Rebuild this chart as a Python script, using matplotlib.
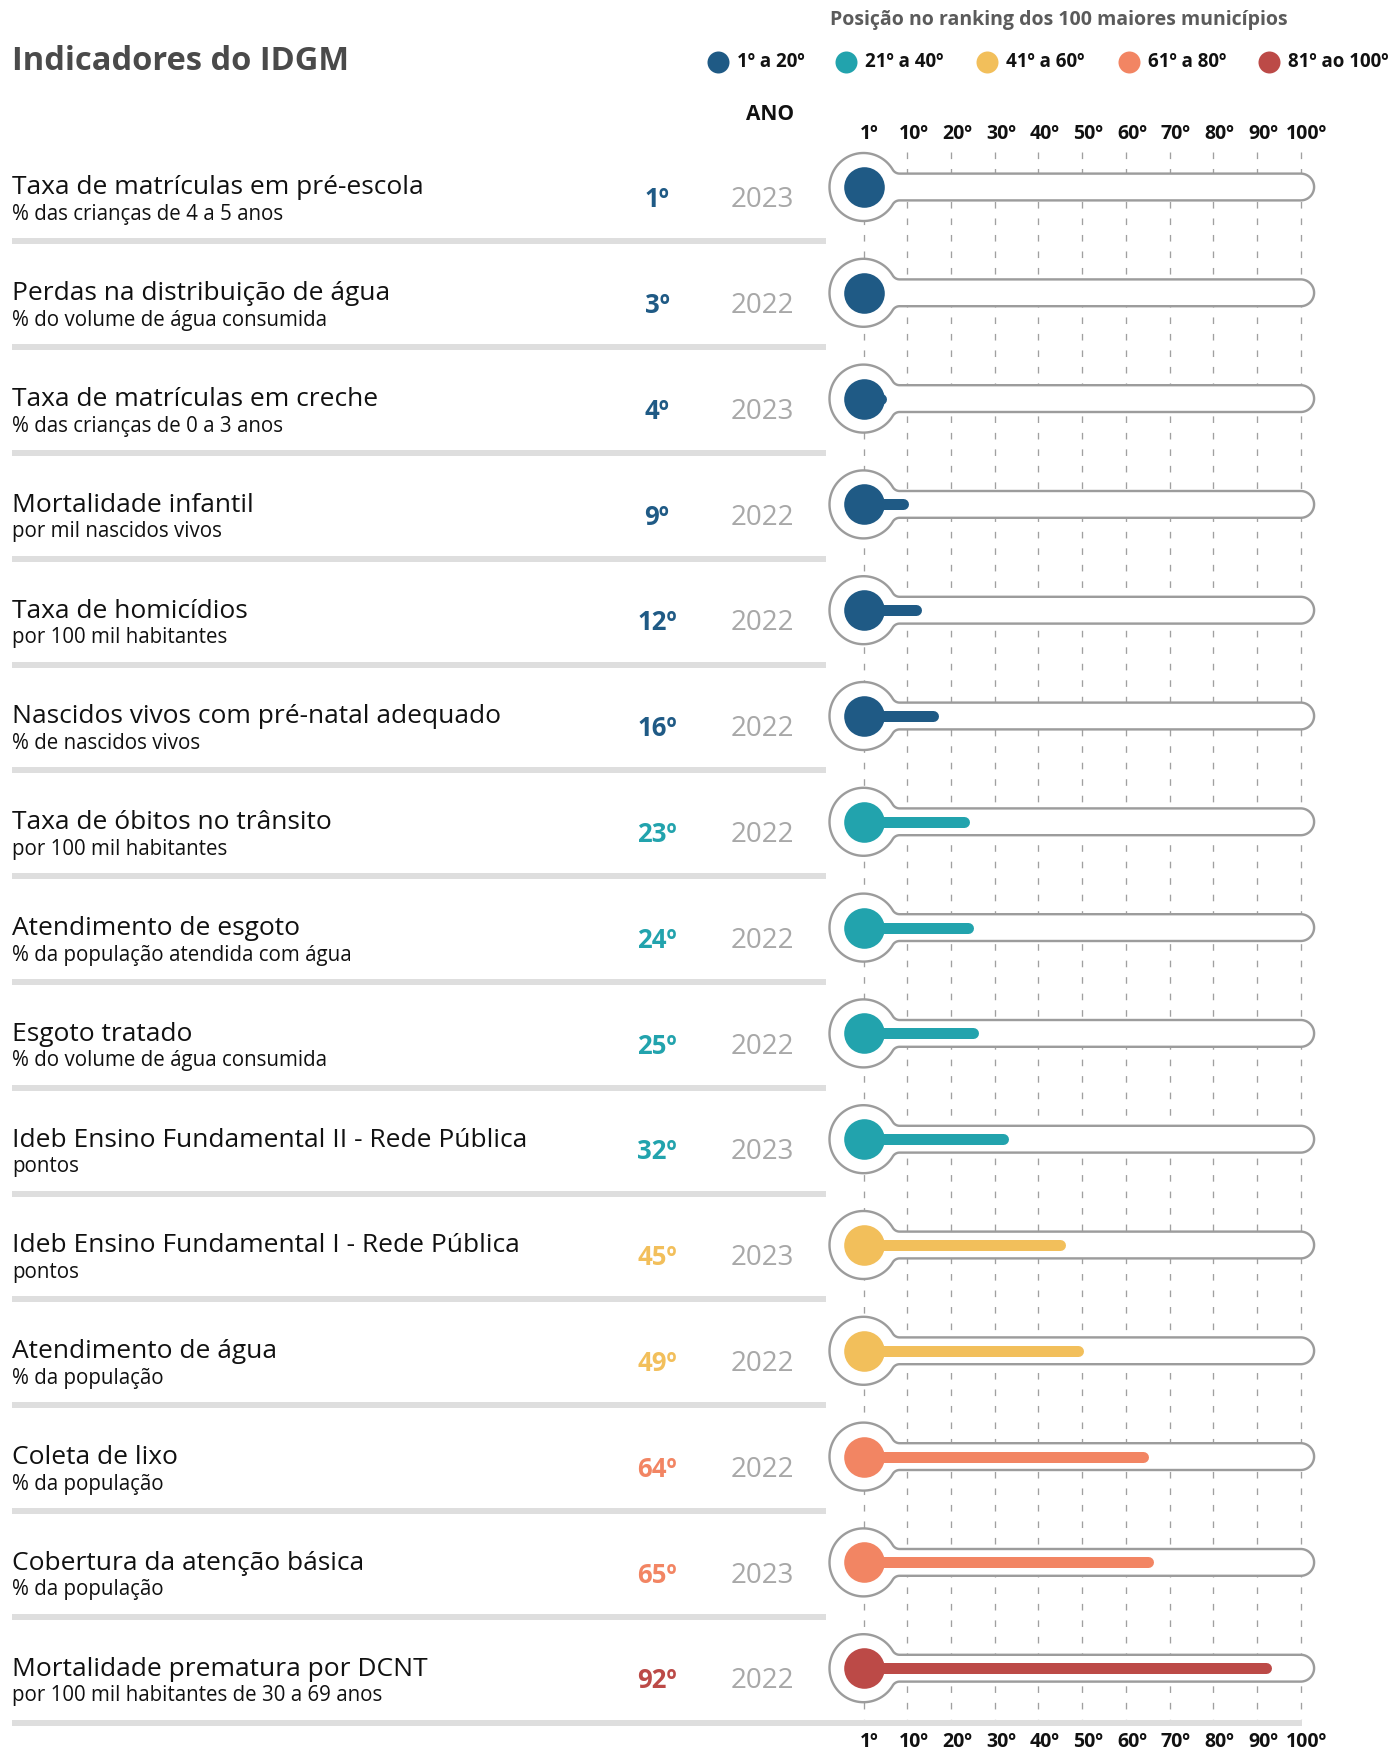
import numpy as np
import matplotlib.pyplot as plt
from matplotlib import transforms
from matplotlib.patches import Polygon

plt.rcParams['font.family'] = ['Open Sans', 'DejaVu Sans']

# dados do grafico
nomes = ["Taxa de matrículas em pré-escola", "Perdas na distribuição de água",
         "Taxa de matrículas em creche", "Mortalidade infantil", "Taxa de homicídios",
         "Nascidos vivos com pré-natal adequado", "Taxa de óbitos no trânsito",
         "Atendimento de esgoto", "Esgoto tratado",
         "Ideb Ensino Fundamental II - Rede Pública",
         "Ideb Ensino Fundamental I - Rede Pública", "Atendimento de água",
         "Coleta de lixo", "Cobertura da atenção básica", "Mortalidade prematura por DCNT"]
unidades = ["% das crianças de 4 a 5 anos", "% do volume de água consumida",
            "% das crianças de 0 a 3 anos", "por mil nascidos vivos", "por 100 mil habitantes",
            "% de nascidos vivos", "por 100 mil habitantes", "% da população atendida com água",
            "% do volume de água consumida", "pontos", "pontos", "% da população",
            "% da população", "% da população", "por 100 mil habitantes de 30 a 69 anos"]
ranks = [1, 3, 4, 9, 12, 16, 23, 24, 25, 32, 45, 49, 64, 65, 92]
anos = [2023, 2022, 2023, 2022, 2022, 2022, 2022, 2022, 2022, 2023, 2023, 2022, 2022, 2023, 2022]

ticks = [0, 10, 20, 30, 40, 50, 60, 70, 80, 90, 100]
tick_labels = ["1º", "10º", "20º", "30º", "40º", "50º", "60º", "70º", "80º", "90º", "100º"]
faixas = ["1º a 20º", "21º a 40º", "41º a 60º", "61º a 80º", "81º ao 100º"]
cores = ["#1f5a85", "#22a3ad", "#f2bf5b", "#f28563", "#bc4a47"]

CINZA = "#9c9c9c"
W, H = 1390, 1750
X0, SX = 863.5, 4.372   # pixel do 1º e pixels por posicao
Y0, SY = 187, 105.8     # pixel da primeira linha e pixels por linha
pt = 0.72  # pixels -> pontos (dpi 100)


def cor(r):
    return cores[min((r - 1) // 20, 4)]


def fx(px):
    return px / W


def fy(py):
    return 1 - py / H


def contorno(R=34.0, h=13.4, f=8.0, L=100 * SX):
    # bulbo + tubo com concordancia, em pixels relativos ao centro do bulbo
    xc = np.sqrt((R + f) ** 2 - (h + f) ** 2)
    th = np.arctan2(h + f, xc)
    a = np.linspace(th - np.pi, -np.pi / 2, 20)
    p1 = np.c_[xc + f * np.cos(a), h + f + f * np.sin(a)]
    a = np.linspace(np.pi / 2, -np.pi / 2, 40)
    p2 = np.c_[L + h * np.cos(a), h * np.sin(a)]
    a = np.linspace(np.pi / 2, np.pi - th, 20)
    p3 = np.c_[xc + f * np.cos(a), -(h + f) + f * np.sin(a)]
    a = np.linspace(-th, th - 2 * np.pi, 120)
    p4 = np.c_[R * np.cos(a), R * np.sin(a)]
    return np.vstack([p1, p2, p3, p4])


fig = plt.figure(figsize=(W / 100, H / 100), dpi=100)
ax = fig.add_axes([0, 0, 1, 1])
# eixo x em posicao do ranking, eixo y em linhas
ax.set_xlim(-X0 / SX, (W - X0) / SX)
ax.set_ylim((H - Y0) / SY, -Y0 / SY)
ax.axis('off')
tr = transforms.blended_transform_factory(fig.transFigure, ax.transData)

# cabecalho
fig.text(fx(12), fy(70), "Indicadores do IDGM", fontsize=23.5, fontweight='bold',
         color='#4a4a4a', va='baseline')
fig.text(fx(1059), fy(20), "Posição no ranking dos 100 maiores municípios", fontsize=14,
         fontweight='bold', color='#5b5b5b', ha='center', va='center')
leg_x = [718, 846, 987, 1129, 1269]
for k, lab in enumerate(faixas):
    ax.scatter([fx(leg_x[k])], [fy(61.7)], s=(22 * pt) ** 2, color=cores[k], lw=0,
               transform=fig.transFigure, clip_on=False)
    fig.text(fx(leg_x[k] + 19), fy(62), lab, fontsize=13.5, fontweight='bold',
             color='#111111', va='center')
fig.text(fx(770), fy(114), "ANO", fontsize=15, fontweight='bold', color='#111111',
         ha='center', va='center')

# eixo de ranking em cima e embaixo
for v, lab in zip(ticks, tick_labels):
    ax.text(v + 1.4, -0.5, lab, fontsize=14, fontweight='bold', ha='center', va='center',
            color='#111111')
    ax.text(v + 1.4, 14.695, lab, fontsize=14, fontweight='bold', ha='center',
            va='center', color='#111111')
ax.vlines(ticks, -0.33, 14.48, colors='#a0a0a0', linestyles=(0, (5, 7.5)), lw=0.95,
          zorder=1)

forma = contorno()
for i, (nome, un, r, ano) in enumerate(zip(nomes, unidades, ranks, anos)):
    c = cor(r)
    ax.text(fx(12), i + 0.069, nome, transform=tr, fontsize=19, va='baseline',
            color='#111111')
    ax.text(fx(12), i + 0.312, un, transform=tr, fontsize=14.8, va='baseline',
            color='#111111')
    ax.text(fx(657), i + 0.19, f"{r}º", transform=tr, fontsize=18.5, fontweight='bold',
            ha='center', va='baseline', color=c)
    ax.text(fx(762), i + 0.19, str(ano), transform=tr, fontsize=20, ha='center',
            va='baseline', color='#a8a8a8')

    # termometro
    ax.add_patch(Polygon(np.c_[forma[:, 0] / SX, i - forma[:, 1] / SY], closed=True,
                         facecolor='white', edgecolor=CINZA, lw=2.4 * pt, zorder=2))
    ax.plot([0, r], [i, i], color=c, lw=11 * pt, solid_capstyle='round', zorder=4)
    ax.scatter([0], [i], s=(40.6 * pt) ** 2, color=c, lw=0, zorder=5)

    # separador
    x_fim = 1302 if i == len(nomes) - 1 else 826
    ax.plot([fx(12), fx(x_fim)], [i + 0.515, i + 0.515], transform=tr, color='#dedede',
            lw=6 * pt, solid_capstyle='butt', zorder=1)

fig.savefig("out.png", dpi=100, facecolor='white')
